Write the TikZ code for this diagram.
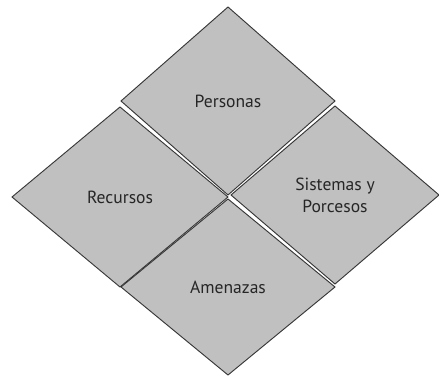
\documentclass[tikz,border=0pt]{standalone}
\usepackage{fontspec}
\setmainfont{PT Sans}
\usetikzlibrary{shapes.geometric}
\definecolor{quadfill}{RGB}{192,192,192}
\definecolor{quadline}{RGB}{55,55,55}
\tikzset{
  quad/.style={diamond, draw=quadline, fill=quadfill, line width=0.8pt,
    inner sep=0pt, outer sep=0pt, minimum width=6.42cm, align=center,
    text=black!85, font=\fontsize{15}{19}\selectfont},
}
\begin{document}
\begin{tikzpicture}[x=0.03cm, y=-0.03cm]
  \useasboundingbox (0,0) rectangle (439,376);
  % four quadrants of the big diamond
  \node[quad, minimum height=5.64cm] (personas) at (228,101) {Personas};
  \node[quad, minimum height=5.40cm, minimum width=6.48cm] (recursos) at (120,197) {Recursos};
  \node[quad, minimum height=5.34cm, minimum width=6.24cm] (sistemas) at (335,195) {Sistemas y\\Porcesos};
  \node[quad, minimum height=5.28cm] (amenazas) at (228,287) {Amenazas};
\end{tikzpicture}
\end{document}
